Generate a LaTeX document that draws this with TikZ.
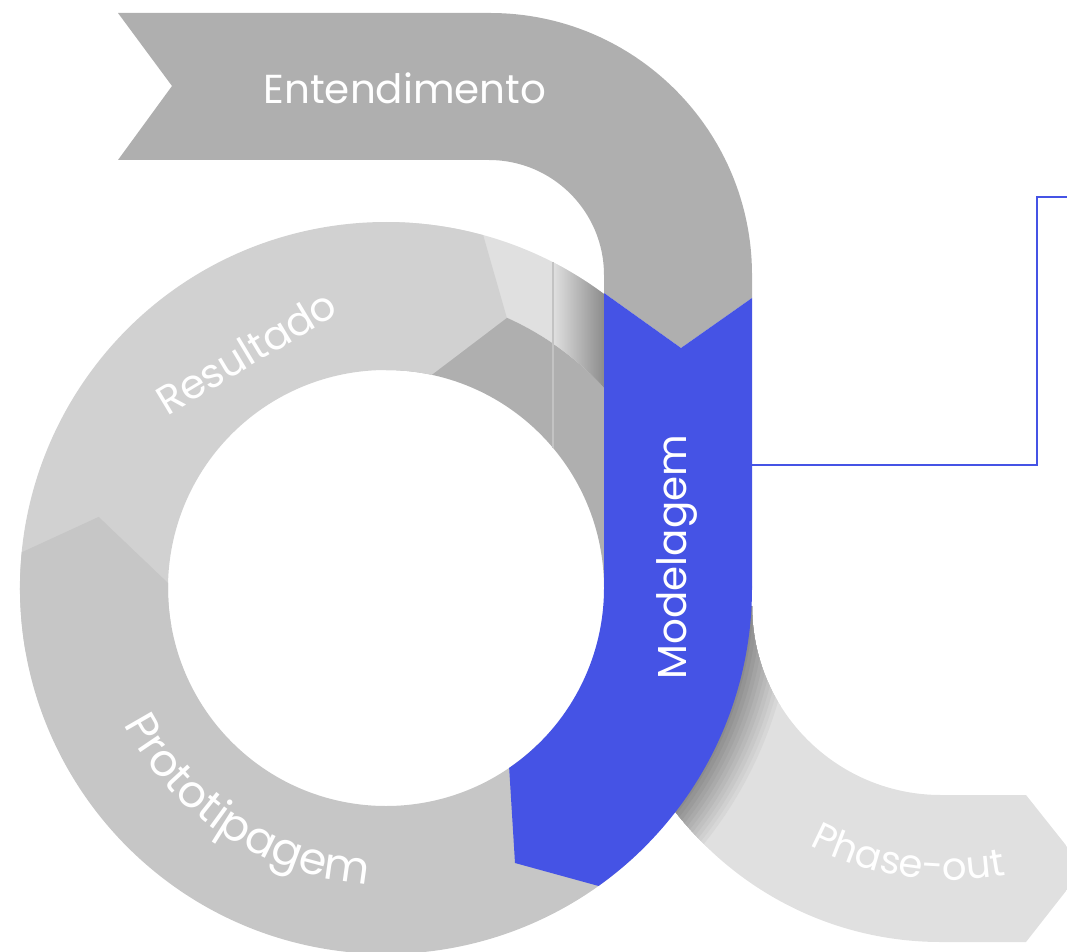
\documentclass[tikz,border=0pt]{standalone}
\usepackage{fontspec}
\newfontfamily\stagefont{Poppins}
\usetikzlibrary{calc}
\usetikzlibrary{decorations.text}

\definecolor{modelblue}{HTML}{4553E5}
\definecolor{bandgray}{HTML}{AFAFAF}
\definecolor{resultgray}{HTML}{D1D1D1}
\definecolor{protogray}{HTML}{C6C6C6}
\definecolor{phasegray}{HTML}{E0E0E0}
\definecolor{shadowgray}{HTML}{8C8C8C}

\begin{document}
\begin{tikzpicture}[x=0.01cm,y=-0.01cm,
    stage/.style={text=white,font=\stagefont\fontsize{11.5}{13}\selectfont},
    link/.style={draw=modelblue,line width=0.65pt}]
  \useasboundingbox (0,0) rectangle (1067,952);
  \clip (0,0) rectangle (1067,952);
  \coordinate (ring) at (386,588);
  \coordinate (po) at (941,606);
  % phase-out band, lying under the ring
  \begin{scope}
    \clip ($(po)+(180:189)$) -- ($(po)+(180:336)$) arc[start angle=180,end angle=90,radius=336]
      -- (1026,942) -- (1084,868) -- (1026,795) -- ($(po)+(90:189)$)
      arc[start angle=90,end angle=180,radius=189] -- cycle;
    \fill[phasegray] (0,0) rectangle (1067,952);
    \foreach \k in {11,...,0} {
      \pgfmathtruncatemacro\mix{100*\k/11}
      \fill[phasegray!\mix!shadowgray] (ring) circle[radius={368+4*\k}];
    }
  \end{scope}
  % ring split in two strips behind the band
  \fill[phasegray] ($(ring)+(270:296)$) -- ($(ring)+(270:366)$) arc[start angle=270,end angle=360,radius=366]
    -- ($(ring)+(0:296)$) arc[start angle=360,end angle=270,radius=296] -- cycle;
  \fill[bandgray] ($(ring)+(270:218)$) -- ($(ring)+(270:296)$) arc[start angle=270,end angle=360,radius=296]
    -- ($(ring)+(0:218)$) arc[start angle=360,end angle=270,radius=218] -- cycle;
  \begin{scope}
    \clip ($(ring)+(270:296)$) -- ($(ring)+(270:366)$) arc[start angle=270,end angle=360,radius=366]
      -- ($(ring)+(0:296)$) arc[start angle=360,end angle=270,radius=296] -- cycle;
    \shade[left color=phasegray,right color=shadowgray] (553,200) rectangle (604,420);
  \end{scope}
  \draw[white!25!bandgray,line width=0.3pt] (553,262) -- (553,448);
  % resultado
  \fill[resultgray] ($(ring)+(170:218)$) -- ($(ring)+(170:366)$) arc[start angle=170,end angle=285.4,radius=366]
    -- ($(ring)+(294.1:296)$) -- ($(ring)+(282.1:218)$) arc[start angle=282.1,end angle=170,radius=218] -- cycle;
  % prototipagem
  \fill[protogray] ($(ring)+(45:218)$) arc[start angle=45,end angle=181.3,radius=218]
    -- ($(ring)+(193.9:296)$) -- ($(ring)+(185.6:366)$) arc[start angle=185.6,end angle=45,radius=366] -- cycle;
  % entendimento
  \fill[bandgray] (118,13) -- (490,13) arc[start angle=-90,end angle=0,radius=262]
    -- (752,298) -- (681,348) -- (604,293) -- (604,275) arc[start angle=0,end angle=-90,radius=115]
    -- (118,160) -- (172,86) -- cycle;
  % modelagem
  \fill[modelblue] (604,293) -- (681,348) -- (752,298) -- (752,588) arc[start angle=0,end angle=54.5,radius=366]
    -- (515,863) -- ($(ring)+(55.6:218)$) arc[start angle=55.6,end angle=0,radius=218] -- cycle;

  \node[stage] (entendimento) at (405,88) {Entendimento};
  \node[stage,rotate=90] (modelagem) at (677,557) {Modelagem};
  \node[stage,rotate=31] (resultado) at (246,352) {Resultado};
  \path[decorate,decoration={text along path,text align=center,
      text={|\stagefont\fontsize{12.6}{14}\selectfont\color{white}|Prototipagem}}]
    ($(ring)+(164:296)$) arc[start angle=164,end angle=82,radius=296];
  \coordinate (bow) at (950,579);
  \path[decorate,decoration={text along path,text align=center,
      text={|\stagefont\fontsize{11}{13}\selectfont\color{white}|Phase-out}}]
    ($(bow)+(135:301)$) arc[start angle=135,end angle=62,radius=301];

  \coordinate (tap) at (752,465);
  \coordinate (corner) at (1037,197);
  \coordinate (lead) at (1075,197);
  \draw[link] (tap) -| (corner) -- (lead);
\end{tikzpicture}
\end{document}
